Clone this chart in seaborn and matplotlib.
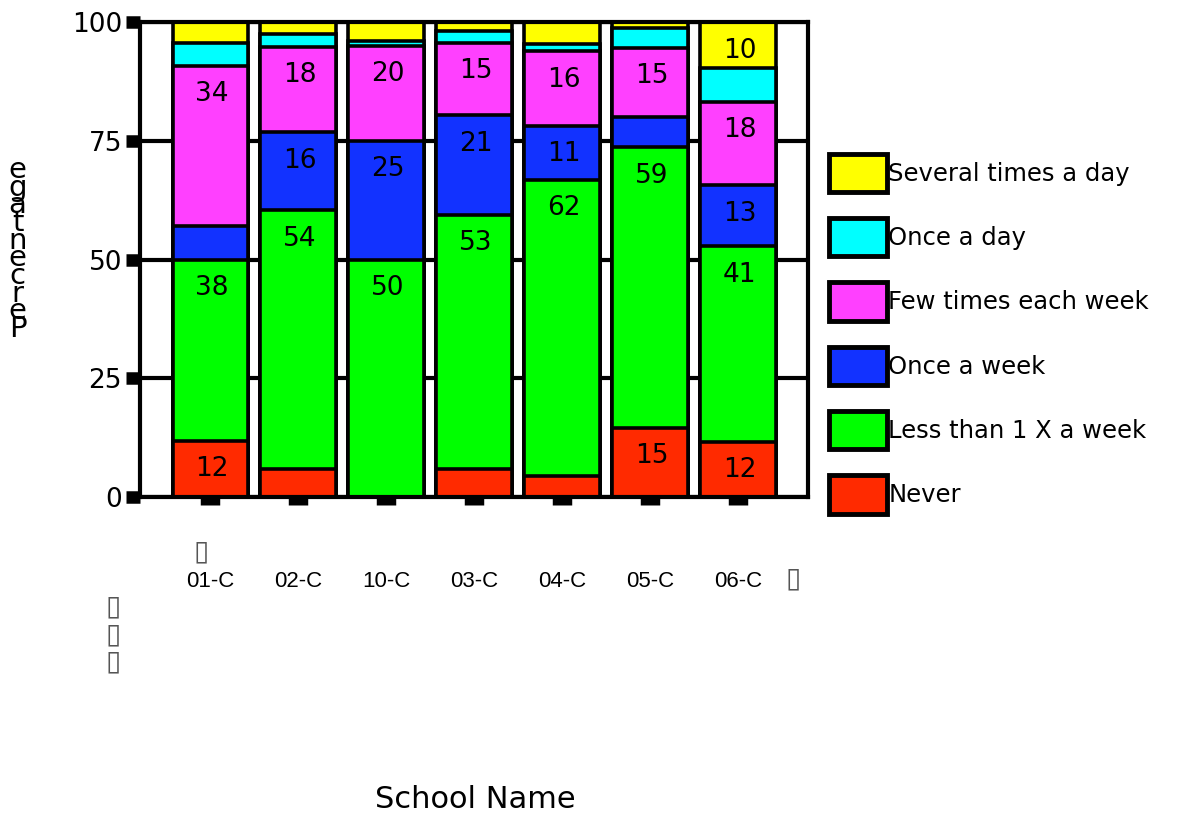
import numpy as np
import pandas as pd
import matplotlib
matplotlib.use("Agg")
import matplotlib.pyplot as plt
from matplotlib.patches import Patch
import seaborn as sns

schools = ["01-C", "02-C", "10-C", "03-C", "04-C", "05-C", "06-C"]
categories = ["Never", "Less than 1 X a week", "Once a week",
              "Few times each week", "Once a day", "Several times a day"]
never = [11.8, 6.0, 0.0, 6.0, 4.4, 14.6, 11.6]
less_than_weekly = [38.2, 54.4, 50.0, 53.4, 62.4, 59.0, 41.2]
once_week = [7.0, 16.4, 25.0, 21.0, 11.4, 6.4, 12.8]
few_week = [33.8, 18.0, 20.0, 15.2, 15.6, 14.6, 17.6]
once_day = [4.8, 2.6, 1.0, 2.6, 1.6, 4.2, 7.2]
several_day = [4.4, 2.6, 4.0, 1.8, 4.6, 1.2, 9.6]
y_ticks = [0, 25, 50, 75, 100]
y_tick_labels = ["0", "25", "50", "75", "100"]

colors = ["#FF2A00", "#00FF00", "#1232FF", "#FF40FF", "#00FFFF", "#FFFF00"]
series = [never, less_than_weekly, once_week, few_week, once_day, several_day]

sns.set_theme(style="white")
plt.rcParams["font.family"] = ["DejaVu Sans"]
plt.rcParams["text.color"] = "black"
plt.rcParams["axes.labelcolor"] = "black"
plt.rcParams["xtick.color"] = "black"
plt.rcParams["ytick.color"] = "black"

fig = plt.figure(figsize=(11.77, 8.18), dpi=100)
ax = fig.add_axes([0.119, 0.3924, 0.5676, 0.5807])

vals = np.array(series)
cum = np.cumsum(vals, axis=0)

# draw from the top layer down so lower layers cover upper cumulative bars
for i in range(len(categories) - 1, -1, -1):
    df = pd.DataFrame({"school": schools, "cum": cum[i]})
    sns.barplot(data=df, x="school", y="cum", order=schools, color=colors[i],
                saturation=1, width=0.86, edgecolor="black", linewidth=2.6,
                errorbar=None, ax=ax)

# value labels
for j, s in enumerate(schools):
    for i in range(len(categories)):
        v = vals[i, j]
        if round(v) >= 10:
            ax.text(j + 0.02, cum[i, j] - 6.0, f"{round(v):d}", ha="center",
                    va="center", fontsize=19, color="black", zorder=5)

ax.set_xlim(-0.8, 6.8)
ax.set_ylim(0, 100)
ax.set_yticks(y_ticks)
ax.set_yticklabels(y_tick_labels, fontsize=19)
ax.set_xticks(range(len(schools)))
ax.set_xticklabels(schools, fontsize=16, family="Liberation Sans")
ax.set_xlabel("")
ax.set_ylabel("")
ax.set_axisbelow(True)
ax.yaxis.grid(True, color="black", linewidth=3)
ax.xaxis.grid(False)
for sp in ax.spines.values():
    sp.set_visible(True)
    sp.set_color("black")
    sp.set_linewidth(3)
ax.tick_params(axis="y", direction="out", length=10, width=9, color="black",
               pad=3, left=True)
ax.tick_params(axis="x", direction="out", length=6, width=14, color="black",
               pad=47, bottom=True)

# legend
handles = [Patch(facecolor=colors[i], edgecolor="black", linewidth=3.5,
                 label=categories[i]) for i in range(len(categories) - 1, -1, -1)]
fig.legend(handles=handles, loc="upper left", bbox_to_anchor=(0.696, 0.824),
           frameon=False, fontsize=17.5, handlelength=2.4, handleheight=2.05,
           handletextpad=0.05, labelspacing=1.07, borderaxespad=0)

# axis titles
fig.text(0.404, 0.005, "School Name", ha="center", va="bottom", fontsize=22)
fig.text(0.015, 0.695, "e\ng\na\nt\nn\ne\nc\nr\ne\nP", ha="center", va="center",
         fontsize=21, linespacing=0.53)

# missing-glyph boxes
for (x, y) in [(201, 551), (793, 578), (113, 606), (113, 634), (113, 661)]:
    fig.text(x / 1177, 1 - y / 818, "\u25AF", ha="center", va="center",
             fontsize=20, color="#555555")

fig.savefig("out.png", dpi=100)
